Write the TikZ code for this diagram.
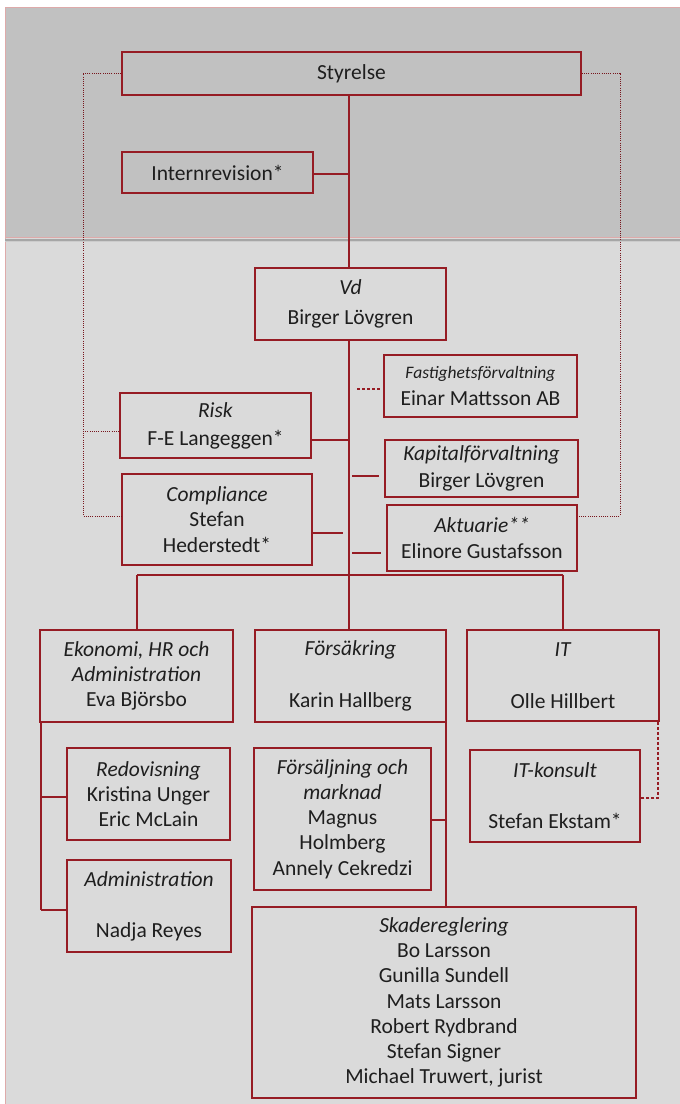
\documentclass[tikz,border=0pt]{standalone}
\usepackage{fontspec}
\setmainfont{Carlito}
\usetikzlibrary{calc}
\definecolor{dred}{RGB}{150,28,36}
\definecolor{topgray}{RGB}{193,193,193}
\definecolor{lowgray}{RGB}{218,218,218}
\definecolor{edgepink}{RGB}{222,170,170}
\definecolor{txt}{RGB}{30,30,30}
\tikzset{
  orgbox/.style={draw=dred, line width=1.5pt, inner sep=0pt, align=center,
    font=\fontsize{21.5}{25.2}\selectfont, text=txt},
  solidlink/.style={draw=dred, line width=1.7pt},
  dottedlink/.style={draw=dred!80!black, line width=1pt, dash pattern=on 1pt off 1.2pt},
  dashedlink/.style={draw=dred, line width=1.4pt, dash pattern=on 3pt off 2pt},
}
\begin{document}
\begin{tikzpicture}[x=1pt,y=-1pt]
% canvas and backgrounds
\useasboundingbox (0,0) rectangle (680,1104);
\fill[white] (0,0) rectangle (680,1104);
\fill[lowgray] (5,238) rectangle (680,1104);
\fill[topgray] (5,7) rectangle (680,238);
\draw[edgepink, line width=0.8pt] (5.4,1104) -- (5.4,7.4) -- (680,7.4);
\draw[edgepink, line width=0.8pt] (5,237) -- (680,237);
\draw[black!35, line width=2pt] (5,239.5) -- (680,239.5);
\draw[black!20, line width=1.5pt] (5,241.5) -- (680,241.5);

% boxes
\node[orgbox, minimum width=459pt, minimum height=43pt] (sty) at (351.5,73.5) {Styrelse};
\node[orgbox, minimum width=191pt, minimum height=41pt] (irev) at (217.5,172.5) {Internrevision*};
\node[orgbox, minimum width=191pt, minimum height=72pt] (vd) at (350.5,304) {\textit{Vd}\\[5pt]Birger Lövgren};
\node[orgbox, minimum width=193pt, minimum height=62pt] (fast) at (480.5,386)
  {{\fontsize{17.5}{20}\selectfont\textit{Fastighetsförvaltning}}\\[1pt]Einar Mattsson AB};
\node[orgbox, minimum width=191pt, minimum height=65pt] (risk) at (215.5,425.5) {\textit{Risk}\\[3pt]F-E Langeggen*};
\node[orgbox, minimum width=193pt, minimum height=57pt] (kap) at (481.5,468.5) {\textit{Kapitalförvaltning}\\[2pt]Birger Lövgren};
\node[orgbox, minimum width=190pt, minimum height=91pt] (comp) at (217,519.5) {\textit{Compliance}\\Stefan\\Hederstedt*};
\node[orgbox, minimum width=190pt, minimum height=66pt] (akt) at (482,538) {\textit{Aktuarie**}\\Elinore Gustafsson};

\node[orgbox, minimum width=193pt, minimum height=92pt] (eko) at (136.5,676) {\textit{Ekonomi, HR och}\\\textit{Administration}\\Eva Björsbo};
\node[orgbox, minimum width=191pt, minimum height=92pt] (fors) at (350.5,676) {\textit{Försäkring}\\[27pt]Karin Hallberg};
\node[orgbox, minimum width=192pt, minimum height=91pt] (it) at (563,675.5) {\textit{IT}\\[27pt]Olle Hillbert};

\node[orgbox, minimum width=163pt, minimum height=92pt] (redo) at (148.5,794) {\textit{Redovisning}\\Kristina Unger\\Eric McLain};
\node[orgbox, minimum width=164pt, minimum height=92pt] (adm) at (149,906) {\textit{Administration}\\[26pt]Nadja Reyes};
\node[orgbox, minimum width=177pt, minimum height=142pt] (forsm) at (342.5,819) {\textit{Försäljning och}\\\textit{marknad}\\Magnus\\Holmberg\\Annely Cekredzi};
\node[orgbox, minimum width=170pt, minimum height=92pt] (itk) at (555,796) {\textit{IT-konsult}\\[26pt]Stefan Ekstam*};
\node[orgbox, minimum width=384pt, minimum height=191pt] (skad) at (444,1002.5)
  {\textit{Skadereglering}\\Bo Larsson\\Gunilla Sundell\\Mats Larsson\\Robert Rydbrand\\Stefan Signer\\Michael Truwert, jurist};

% spine coordinates
\coordinate (sTop) at (349,95);
\coordinate (s174) at (349,174);
\coordinate (s389) at (349,389);
\coordinate (s440) at (349,440);
\coordinate (s476) at (349,476);
\coordinate (s533) at (349,533);
\coordinate (s553) at (349,553);
\coordinate (bus) at (349,575);
\coordinate (busL) at (137,575);
\coordinate (busR) at (563,575);

% main spine
\path[solidlink] (sty.south -| sTop) -- (vd.north -| sTop);
\path[solidlink] (vd.south -| sTop) -- (bus);
\path[solidlink] (irev.east |- s174) -- (s174);
\path[solidlink] (risk.east |- s440) -- (s440);
\path[solidlink, shorten >=6pt] (comp.east |- s533) -- (s533);
\path[solidlink, shorten <=3pt, shorten >=5pt] (s476) -- (kap.west |- s476);
\path[solidlink, shorten <=3pt, shorten >=5pt] (s553) -- (akt.west |- s553);
\path[dashedlink, shorten <=8pt, shorten >=2pt] (s389) -- (fast.west |- s389);

% bus to departments
\path[solidlink] (busL) -- (busR);
\path[solidlink] (busL) -- (eko.north -| busL);
\path[solidlink] (bus) -- (fors.north -| bus);
\path[solidlink] (busR) -- (it.north -| busR);

% Ekonomi subtree
\coordinate (eL) at (41,722);
\coordinate (e797) at (41,797);
\coordinate (e910) at (41,910);
\path[solidlink] (eko.south -| eL) -- (e910);
\path[solidlink] (e797) -- (redo.west |- e797);
\path[solidlink] (e910) -- (adm.west |- e910);

% Försäkring subtree
\coordinate (fR) at (446,722);
\coordinate (f820) at (446,820);
\path[solidlink] (fR) -- (skad.north -| fR);
\path[solidlink] (forsm.east |- f820) -- (f820);

% IT consultant dashed
\coordinate (it798) at (658,798);
\path[dashedlink] (it.south -| it798) -- (it798) -- (itk.east |- it798);

% dotted oversight lines
\coordinate (dL) at (83,73);
\coordinate (dR) at (620,73);
\coordinate (dL431) at (83,431);
\coordinate (dL516) at (83,516);
\coordinate (dR516) at (620,516);
\path[dottedlink] (sty.west |- dL) -- (dL) -- (dL516) -- (comp.west |- dL516);
\path[dottedlink] (dL431) -- (risk.west |- dL431);
\path[dottedlink] (sty.east |- dR) -- (dR) -- (dR516) -- (akt.east |- dR516);
\end{tikzpicture}
\end{document}
